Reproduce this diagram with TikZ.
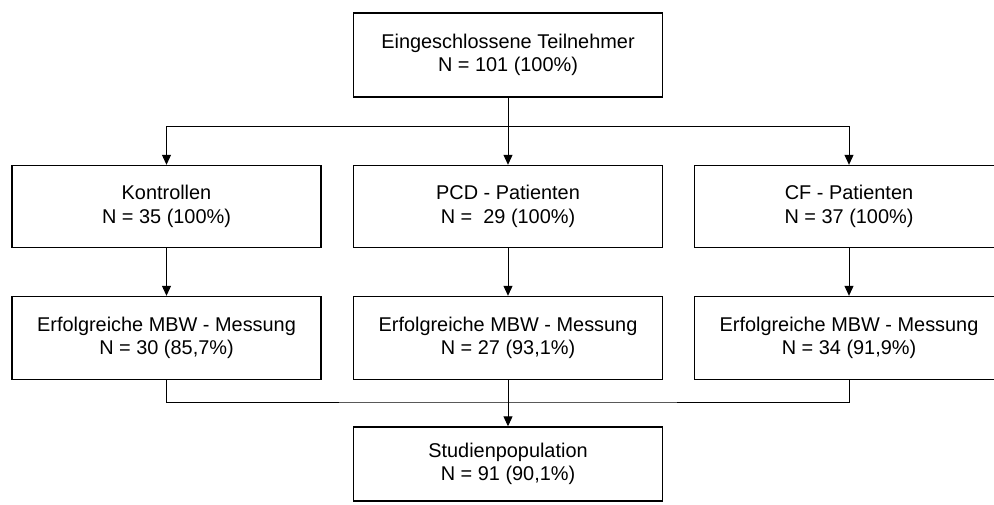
\documentclass[tikz,border=0pt]{standalone}
\usepackage{fontspec}
\setmainfont{Liberation Sans}
\usetikzlibrary{arrows.meta}
\begin{document}
\begin{tikzpicture}[x=1pt,y=-1pt,
  box/.style={draw,line width=1.4pt,minimum width=309pt,inner sep=0pt,align=center,
    font=\fontsize{19.9}{23.5}\selectfont},
  link/.style={line width=1pt},
  arr/.style={link,-{Triangle[length=10pt,width=9pt]}}]
\useasboundingbox (0,0) rectangle (994,504);
% top
\node[box,minimum height=84pt] (all) at (508,55) {Eingeschlossene Teilnehmer\\N = 101 (100\%)};
% groups
\node[box,minimum height=82pt] (ctl) at (166.5,206.5) {Kontrollen\\N = 35 (100\%)};
\node[box,minimum height=82pt] (pcd) at (508,206.5) {PCD - Patienten\\N =\ \ 29 (100\%)};
\node[box,minimum height=82pt] (cf) at (849,206.5) {CF - Patienten\\N = 37 (100\%)};
% successful measurements
\node[box,minimum height=83pt] (ctlm) at (166.5,338) {Erfolgreiche MBW - Messung\\N = 30 (85,7\%)};
\node[box,minimum height=83pt] (pcdm) at (508,338) {Erfolgreiche MBW - Messung\\N = 27 (93,1\%)};
\node[box,minimum height=83pt] (cfm) at (849,338) {Erfolgreiche MBW - Messung\\N = 34 (91,9\%)};
% study population
\node[box,minimum height=74pt] (pop) at (508,464) {Studienpopulation\\N = 91 (90,1\%)};
\coordinate (split) at (508,126);
\coordinate (join) at (508,402);
\draw[link] (split -| ctl) -- (split -| cf);
\draw[arr] (all) -- (pcd);
\draw[arr] (split -| ctl) -- (ctl);
\draw[arr] (split -| cf) -- (cf);
\draw[arr] (ctl) -- (ctlm);
\draw[arr] (pcd) -- (pcdm);
\draw[arr] (cf) -- (cfm);
\draw[link] (ctlm) |- (join) -| (cfm);
\draw[arr] (pcdm) -- (pop);
\end{tikzpicture}
\end{document}
